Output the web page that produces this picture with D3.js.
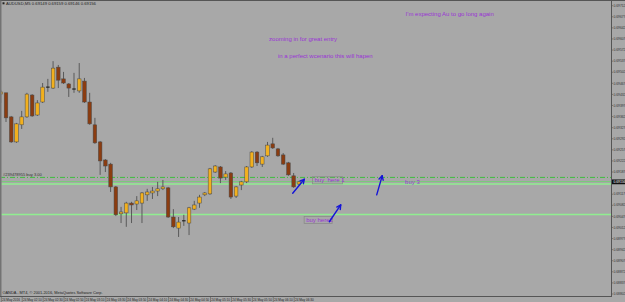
<!DOCTYPE html>
<html>
<head>
<meta charset="utf-8">
<script src="https://cdn.jsdelivr.net/npm/d3@7"></script>
<style>
body { margin: 0; background: #a8a8a8; overflow: hidden; }
svg { display: block; }
</style>
</head>
<body>
<div id="chart"></div>
<script>
// M5 bars, oldest first
var opens = [0.69433,0.69437,0.69361,0.69282,0.69336,0.69361,0.69430,0.69367,0.69408,0.69455,0.69452,0.69518,0.69481,0.69465,0.69449,0.69443,0.69474,0.69408,0.69336,0.69282,0.69225,0.69212,0.69140,0.69055,0.69058,0.69089,0.69086,0.69089,0.69115,0.69121,0.69127,0.69134,0.69137,0.69045,0.69010,0.69033,0.69026,0.69070,0.69089,0.69115,0.69118,0.69187,0.69203,0.69171,0.69184,0.69111,0.69146,0.69156,0.69203,0.69250,0.69212,0.69238,0.69276,0.69260,0.69241,0.69216,0.69175,0.69149];
var highs = [0.69446,0.69437,0.69364,0.69342,0.69380,0.69437,0.69433,0.69414,0.69468,0.69481,0.69537,0.69525,0.69503,0.69468,0.69500,0.69531,0.69484,0.69437,0.69358,0.69285,0.69228,0.69216,0.69143,0.69077,0.69093,0.69093,0.69111,0.69124,0.69134,0.69140,0.69156,0.69162,0.69140,0.69070,0.69045,0.69052,0.69077,0.69096,0.69115,0.69124,0.69200,0.69209,0.69206,0.69190,0.69187,0.69143,0.69159,0.69206,0.69253,0.69253,0.69238,0.69282,0.69295,0.69263,0.69247,0.69219,0.69184,0.69159];
var lows = [0.69405,0.69345,0.69279,0.69279,0.69323,0.69358,0.69361,0.69364,0.69405,0.69440,0.69449,0.69452,0.69465,0.69424,0.69437,0.69437,0.69405,0.69336,0.69276,0.69178,0.69187,0.69124,0.69048,0.69026,0.69014,0.69026,0.69067,0.69026,0.69096,0.69102,0.69111,0.69130,0.69042,0.69010,0.68982,0.69017,0.68988,0.69067,0.69074,0.69111,0.69115,0.69184,0.69152,0.69162,0.69102,0.69105,0.69130,0.69152,0.69200,0.69206,0.69203,0.69235,0.69260,0.69235,0.69209,0.69175,0.69137,0.69146];
var closes = [0.69440,0.69358,0.69282,0.69339,0.69361,0.69433,0.69364,0.69405,0.69455,0.69454,0.69515,0.69477,0.69468,0.69452,0.69449,0.69481,0.69408,0.69339,0.69279,0.69222,0.69206,0.69140,0.69052,0.69061,0.69089,0.69083,0.69096,0.69121,0.69124,0.69127,0.69134,0.69140,0.69045,0.69014,0.69029,0.69032,0.69074,0.69083,0.69108,0.69121,0.69197,0.69206,0.69168,0.69181,0.69108,0.69140,0.69156,0.69203,0.69250,0.69216,0.69235,0.69272,0.69263,0.69238,0.69212,0.69178,0.69140,0.69156];

var priceTicks = [0.69712,0.69677,0.69642,0.69607,0.69572,0.69537,0.69502,0.69467,0.69432,0.69397,0.69362,0.69327,0.69292,0.69257,0.69222,0.69187,0.69152,0.69117,0.69082,0.69047,0.69012,0.68977,0.68942,0.68907,0.68872,0.68837,0.68802];
var timeBars = [0,4,8,12,16,20,24,28,32,36,40,44,48,52,56];
var timeLabels = ["24 May 2016","24 May 02:10","24 May 02:30","24 May 02:50","24 May 03:10","24 May 03:30","24 May 03:50","24 May 04:10","24 May 04:30","24 May 04:50","24 May 05:10","24 May 05:30","24 May 05:50","24 May 06:10","24 May 06:30"];

// horizontal lines: order line and the drawn support lines
var orderLevel = 0.69170;
var bidLevel = 0.69157;
var lineLevels = [0.69149, 0.69053];

// text objects on the chart (bar index, price)
var notes = [
    { text: "I'm expecting Au to go long again", bar: 77.4, price: 0.69681 },
    { text: "zooming in for great entry", bar: 51.3, price: 0.69599 },
    { text: "in a perfect wcenario this will hapen", bar: 53.0, price: 0.69547 },
    { text: "buy 3", bar: 77.3, price: 0.69150 }
];
var boxes = [
    { text: "buy  here 1", bar: 59.8, price: 0.69153, w: 30 },
    { text: "buy here2", bar: 58.2, price: 0.69028, w: 28 }
];
var arrows = [
    { b0: 55.82, p0: 0.69120, b1: 58.03, p1: 0.69164 },
    { b0: 62.82, p0: 0.69030, b1: 65.00, p1: 0.69083 },
    { b0: 71.88, p0: 0.69115, b1: 72.93, p1: 0.69175 }
];

var W = 625, H = 302;
var plotR = 611, plotB = 296;

var svg = d3.select("#chart").append("svg")
    .attr("width", W)
    .attr("height", H)
    .style("font-family", "'Liberation Sans', Arial, sans-serif");

svg.append("rect").attr("width", W).attr("height", H).attr("fill", "#a8a8a8");

var x = d3.scaleLinear().domain([0, 116]).range([0.77, 0.77 + 116 * 5.23]);
var y = d3.scaleLinear().domain([0.68802, 0.69712]).range([294, 5.7]);

svg.append("clipPath").attr("id", "plotclip")
    .append("rect").attr("x", 1.5).attr("y", 1.5).attr("width", plotR - 1.5).attr("height", plotB - 1.5);

var plot = svg.append("g").attr("clip-path", "url(#plotclip)");

// order line (dash dot)
plot.append("line")
    .attr("x1", 0).attr("x2", plotR)
    .attr("y1", y(orderLevel)).attr("y2", y(orderLevel))
    .attr("stroke", "#3fbf3f").attr("stroke-width", 1)
    .attr("stroke-dasharray", "5,2,1,2");

plot.append("line")
    .attr("x1", 0).attr("x2", plotR)
    .attr("y1", y(bidLevel)).attr("y2", y(bidLevel))
    .attr("stroke", "#6fd06f").attr("stroke-width", 0.8);

lineLevels.forEach(function(p) {
    plot.append("line")
        .attr("x1", 0).attr("x2", plotR)
        .attr("y1", y(p)).attr("y2", y(p))
        .attr("stroke", "#90ee90").attr("stroke-width", 1.6);
});

plot.append("text").text("#239478955 buy 3.00")
    .attr("x", 3).attr("y", y(orderLevel) - 1.5)
    .attr("font-size", 4).attr("fill", "#333");

// candles
var idx = d3.range(opens.length);
var bw = 3.6;

plot.selectAll(".wick").data(idx).enter().append("line")
    .attr("x1", function(i) { return x(i); })
    .attr("x2", function(i) { return x(i); })
    .attr("y1", function(i) { return y(highs[i]); })
    .attr("y2", function(i) { return y(lows[i]); })
    .attr("stroke", "#5a5a5a").attr("stroke-width", 1);

plot.selectAll(".body").data(idx.filter(function(i) { return Math.abs(y(opens[i]) - y(closes[i])) > 0.6; }))
    .enter().append("rect")
    .attr("x", function(i) { return x(i) - bw / 2; })
    .attr("width", bw)
    .attr("y", function(i) { return y(Math.max(opens[i], closes[i])); })
    .attr("height", function(i) { return Math.abs(y(opens[i]) - y(closes[i])); })
    .attr("fill", function(i) { return closes[i] > opens[i] ? "#f2b01e" : "#8b3c10"; })
    .attr("stroke", "#4a4a4a").attr("stroke-width", 0.5);

plot.selectAll(".doji").data(idx.filter(function(i) { return Math.abs(y(opens[i]) - y(closes[i])) <= 0.6; }))
    .enter().append("line")
    .attr("x1", function(i) { return x(i) - bw / 2; })
    .attr("x2", function(i) { return x(i) + bw / 2; })
    .attr("y1", function(i) { return y(opens[i]); })
    .attr("y2", function(i) { return y(opens[i]); })
    .attr("stroke", "#111").attr("stroke-width", 1);

// text objects
notes.forEach(function(n) {
    plot.append("text").text(n.text)
        .attr("x", x(n.bar)).attr("y", y(n.price))
        .attr("font-size", 6).attr("fill", "#9a33d6");
});

boxes.forEach(function(b) {
    var bx = x(b.bar), by = y(b.price);
    plot.append("rect")
        .attr("x", bx - 1).attr("y", by - 6)
        .attr("width", b.w).attr("height", 7)
        .attr("fill", "none").attr("stroke", "#8a8a8a").attr("stroke-width", 0.8);
    plot.append("text").text(b.text)
        .attr("x", bx + 1).attr("y", by - 0.5)
        .attr("font-size", 6).attr("fill", "#9a33d6")
        .style("white-space", "pre");
});

arrows.forEach(function(a) {
    var x0 = x(a.b0), y0 = y(a.p0), x1 = x(a.b1), y1 = y(a.p1);
    var ang = Math.atan2(y1 - y0, x1 - x0);
    var g = plot.append("g").attr("stroke", "#1414d8").attr("stroke-width", 1.4).attr("stroke-linecap", "round");
    g.append("line").attr("x1", x0).attr("y1", y0).attr("x2", x1).attr("y2", y1);
    [-0.5, 0.5].forEach(function(d) {
        g.append("line")
            .attr("x1", x1).attr("y1", y1)
            .attr("x2", x1 - 4.5 * Math.cos(ang + d))
            .attr("y2", y1 - 4.5 * Math.sin(ang + d));
    });
});

// frame
svg.append("line").attr("x1", 0).attr("x2", W).attr("y1", 0.5).attr("y2", 0.5).attr("stroke", "#555").attr("stroke-width", 1);
svg.append("line").attr("x1", 0.8).attr("x2", 0.8).attr("y1", 0).attr("y2", plotB).attr("stroke", "#666").attr("stroke-width", 1.2);
svg.append("line").attr("x1", 0).attr("x2", plotR).attr("y1", plotB + 0.5).attr("y2", plotB + 0.5).attr("stroke", "#555").attr("stroke-width", 1);
svg.append("line").attr("x1", plotR + 0.5).attr("x2", plotR + 0.5).attr("y1", 0).attr("y2", plotB + 1).attr("stroke", "#555").attr("stroke-width", 1);

// title
svg.append("rect").attr("x", 2.5).attr("y", 2.3).attr("width", 2).attr("height", 2).attr("fill", "#222");
svg.append("text").text("AUDUSD,M5  " + opens[opens.length - 1].toFixed(5) + " " + highs[highs.length - 1].toFixed(5) + " " + lows[lows.length - 1].toFixed(5) + " " + closes[closes.length - 1].toFixed(5))
    .attr("x", 6).attr("y", 4.8)
    .attr("font-size", 4.2).attr("fill", "#222");

svg.append("text").text("OANDA - MT4, \u00a9 2001-2016, MetaQuotes Software Corp.")
    .attr("x", 2.5).attr("y", 294)
    .attr("font-size", 3.9).attr("fill", "#222");

// price axis
var lastClose = closes[closes.length - 1];
var ptick = svg.append("g");
priceTicks.filter(function(p) { return Math.abs(p - lastClose) > 0.0001; }).forEach(function(p) {
    ptick.append("line").attr("x1", plotR).attr("x2", plotR + 2)
        .attr("y1", y(p)).attr("y2", y(p)).attr("stroke", "#555").attr("stroke-width", 0.6);
    ptick.append("text").text(p.toFixed(5))
        .attr("x", plotR + 2.5).attr("y", y(p) + 1.2)
        .attr("font-size", 3.3).attr("fill", "#333");
});
svg.append("rect").attr("x", plotR + 1).attr("y", y(lastClose) - 2.4).attr("width", W - plotR - 1).attr("height", 4.8).attr("fill", "#111");
svg.append("text").text(lastClose.toFixed(5))
    .attr("x", plotR + 2.5).attr("y", y(lastClose) + 1.2)
    .attr("font-size", 3.3).attr("fill", "#fff");

// time axis
timeBars.forEach(function(b, k) {
    var tx = x(b);
    svg.append("line").attr("x1", tx + 0.5).attr("x2", tx + 0.5).attr("y1", plotB + 1).attr("y2", H)
        .attr("stroke", "#555").attr("stroke-width", 0.6);
    svg.append("text").text(timeLabels[k])
        .attr("x", tx + 1.3).attr("y", 300.6)
        .attr("font-size", 3.1).attr("fill", "#222");
});
</script>
</body>
</html>
